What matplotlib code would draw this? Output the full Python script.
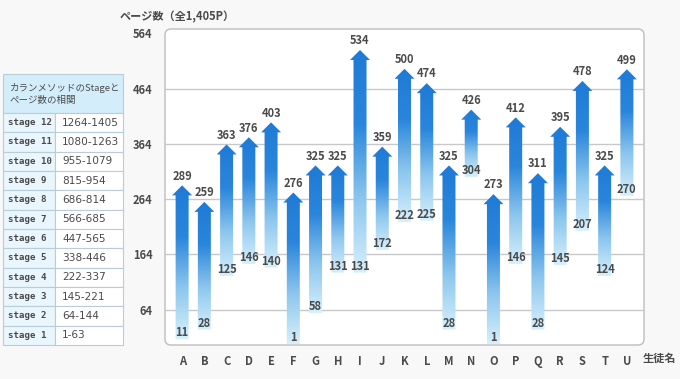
import numpy as np
import matplotlib
matplotlib.use("Agg")
import matplotlib.pyplot as plt
from matplotlib.patches import Rectangle, FancyBboxPatch, Polygon

plt.rcParams['font.family'] = ['Noto Sans CJK JP', 'DejaVu Sans']

# data
students = list("ABCDEFGHIJKLMNOPQRSTU")
start_page = [11, 28, 125, 146, 140, 1, 58, 131, 131, 172, 222, 225, 28, 304, 1, 146, 28, 145, 207, 124, 270]
end_page = [289, 259, 363, 376, 403, 276, 325, 325, 534, 359, 500, 474, 325, 426, 273, 412, 311, 395, 478, 325, 499]
y_ticks = [64, 164, 264, 364, 464, 564]

stage_names = ["stage 12", "stage 11", "stage 10", "stage 9", "stage 8", "stage 7",
               "stage 6", "stage 5", "stage 4", "stage 3", "stage 2", "stage 1"]
stage_pages = ["1264-1405", "1080-1263", "955-1079", "815-954", "686-814", "566-685",
               "447-565", "338-446", "222-337", "145-221", "64-144", "1-63"]

W, H = 680, 379
txt = '#4a4a4a'

fig = plt.figure(figsize=(W / 100, H / 100), dpi=100)
fig.patch.set_facecolor('#f8f8f8')

# background layer in pixel coords (plot box + table)
bg = fig.add_axes([0, 0, 1, 1])
bg.set_xlim(0, W)
bg.set_ylim(H, 0)
bg.axis('off')

box = FancyBboxPatch((165, 29), 479, 316, boxstyle="round,pad=0,rounding_size=6",
                     facecolor='white', edgecolor='#bdbdbd', linewidth=1)
bg.add_patch(box)

# table
tx0, tx1, tsplit = 3, 123, 55
ty0, hdr_bot = 74, 113
row_h = (345 - hdr_bot) / len(stage_names)
bc = '#b8cdd8'
bg.add_patch(Rectangle((tx0, ty0), tx1 - tx0, hdr_bot - ty0, facecolor='#d3eefa', edgecolor=bc, lw=0.8))
bg.text(tx0 + 7, (ty0 + hdr_bot) / 2, "カランメソッドのStageと\nページ数の相関", fontsize=6.8,
        color=txt, va='center', ha='left', linespacing=1.4)
for i, (nm, pg) in enumerate(zip(stage_names, stage_pages)):
    y = hdr_bot + i * row_h
    bg.add_patch(Rectangle((tx0, y), tsplit - tx0, row_h, facecolor='#eaf6fd', edgecolor=bc, lw=0.8))
    bg.add_patch(Rectangle((tsplit, y), tx1 - tsplit, row_h, facecolor='white', edgecolor=bc, lw=0.8))
    bg.text(tx0 + 5, y + row_h / 2, nm, fontsize=6.6, color=txt, va='center', ha='left',
            family='DejaVu Sans Mono', fontweight='bold')
    bg.text(tsplit + 7, y + row_h / 2, pg, fontsize=7.6, color=txt, va='center', ha='left',
            family='DejaVu Sans')

bg.text(120, 17, "ページ数（全1,405P）", fontsize=8, color=txt, fontweight='bold', va='center', ha='left')
bg.text(643, 358, "生徒名", fontsize=8, color=txt, fontweight='bold', va='center', ha='left')

# main chart
ax = fig.add_axes([165 / W, 1 - 345 / H, 479 / W, 316 / H])
ax.patch.set_alpha(0)
for s in ax.spines.values():
    s.set_visible(False)
for t in y_ticks[:-1]:
    ax.axhline(t, color='#c8c8c8', lw=1, zorder=0)
ax.set_yticks(y_ticks)
ax.set_yticklabels([str(t) for t in y_ticks], fontsize=8, fontweight='bold', color=txt)
ax.set_xticks(range(len(students)))
ax.set_xticklabels(students, fontsize=8, fontweight='bold', color=txt)
ax.tick_params(length=0, pad=9)
ax.tick_params(axis='x', pad=7)

px_x = 479 / (len(students) - 1 + 1.54)  # pixels per x unit
px_y = 316 / 572
shaft_w = 13 / px_x / 2
head_w = 20 / px_x / 2
head_h = 10 / px_y

grad = np.linspace(0, 1, 256).reshape(-1, 1)
cmap = matplotlib.colors.LinearSegmentedColormap.from_list('blu', ['#d6f0fc', '#8cc6ee', '#2a86dc', '#1f7ad6'])

for i, (lo, hi) in enumerate(zip(start_page, end_page)):
    poly = [(i - shaft_w, lo), (i + shaft_w, lo), (i + shaft_w, hi - head_h),
            (i + head_w, hi - head_h), (i, hi), (i - head_w, hi - head_h), (i - shaft_w, hi - head_h)]
    p = Polygon(poly, closed=True, facecolor='none', edgecolor='none')
    ax.add_patch(p)
    im = ax.imshow(grad, extent=[i - head_w, i + head_w, lo, hi], origin='lower', cmap=cmap,
                   aspect='auto', zorder=2, interpolation='bilinear')
    im.set_clip_path(p)
    ax.annotate(str(hi), (i, hi), xytext=(0, 2), textcoords='offset points', ha='center',
                va='bottom', fontsize=8, fontweight='bold', color=txt, zorder=3)
    ax.annotate(str(lo), (i, lo), xytext=(0, 0), textcoords='offset points', ha='center',
                va='bottom', fontsize=8, fontweight='bold', color=txt, zorder=3)

ax.set_xlim(-0.77, len(students) - 1 + 0.77)
ax.set_ylim(0, 572)

fig.savefig('out.png', dpi=100, facecolor=fig.get_facecolor())
